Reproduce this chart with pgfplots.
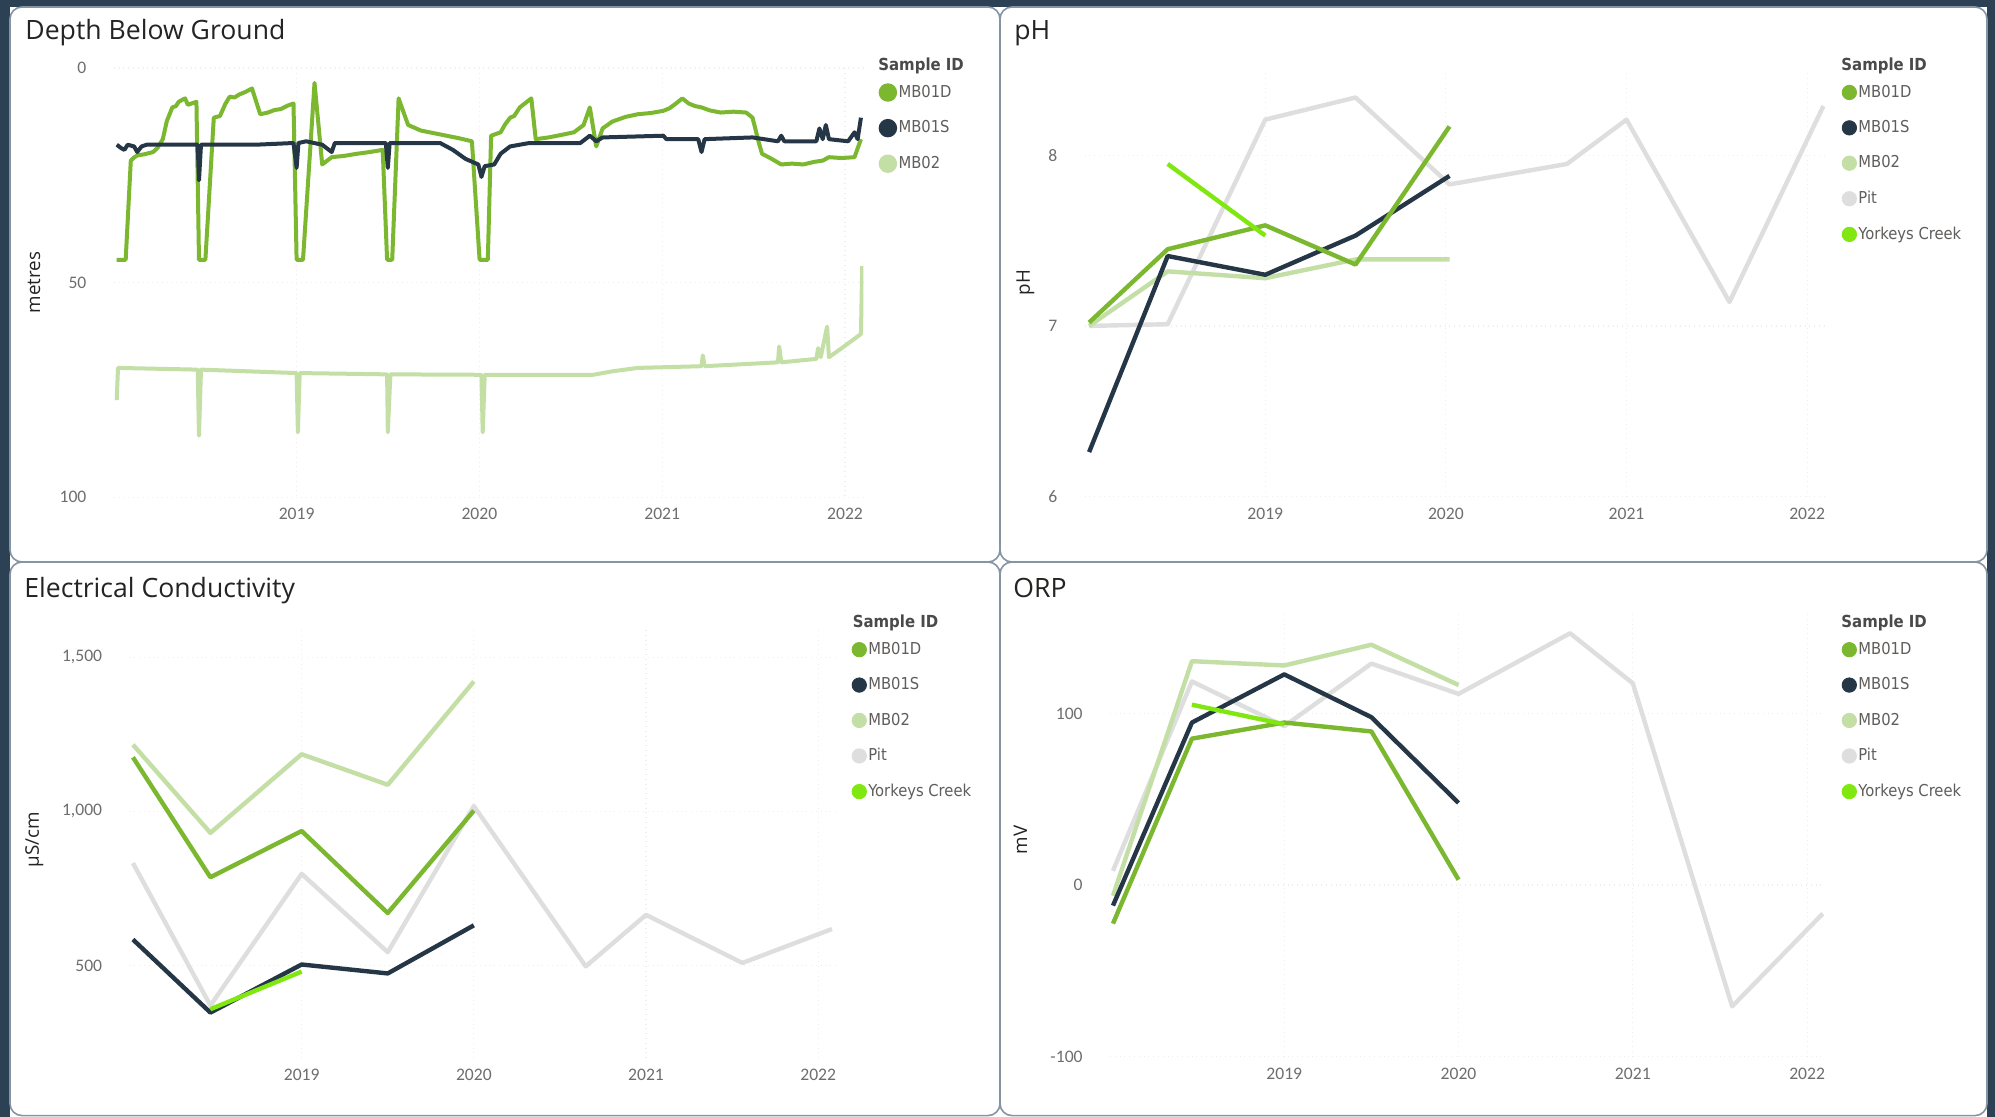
\documentclass[border=0pt]{standalone}
\usepackage{pgfplots}
\pgfplotsset{compat=1.18}
\usepackage{fontspec}
\setmainfont{Open Sans}
\newfontfamily\tickfont{Carlito}
\newfontfamily\legfont{DejaVu Sans Condensed}
\definecolor{cMBD}{HTML}{7BB72F}
\definecolor{cMBS}{HTML}{253746}
\definecolor{cMB2}{HTML}{C4DFA5}
\definecolor{cPit}{HTML}{DEDEDE}
\definecolor{cYork}{HTML}{80E810}
\definecolor{navy}{HTML}{2C4254}
\definecolor{bord}{HTML}{8695A3}
\definecolor{ttl}{HTML}{252423}
\definecolor{tickcol}{HTML}{6E6E6E}
\definecolor{legcol}{HTML}{605E5C}
\definecolor{legttl}{HTML}{4A4A4A}
\definecolor{gcol}{HTML}{EEEEEE}
\pgfplotsset{
  panel/.style={
    scale only axis, axis line style={draw=none}, major tick length=0pt,
    grid=major, major grid style={gcol, dotted, line width=0.6pt},
    xmin=2018, xmax=2022.1,
    xtick={2019,2020,2021,2022}, xticklabels={2019,2020,2021,2022},
    ticklabel style={font=\tickfont\fontsize{8.8}{10}\selectfont, text=tickcol},
    xticklabel style={inner sep=0pt, anchor=north, yshift=-5.5pt},
    yticklabel style={inner sep=0pt, anchor=east, xshift=-13.5pt},
    legend style={anchor=north west, draw=none, fill=none, inner sep=0pt,
      row sep=8.6pt, nodes={inner sep=0.75pt},
      font=\legfont\fontsize{8.2}{9.8}\selectfont, text=legcol},
    legend cell align=left,
    legend image code/.code={\fill[##1] (3.6pt,0pt) circle (3.6pt);},
    line join=round,
  },
  dl/.style={line width=2pt, mark=none},
  sl/.style={line width=2.2pt, mark=none, forget plot},
}
\begin{document}
\begin{tikzpicture}
\useasboundingbox (0pt,0pt) rectangle (997.5pt,-558.5pt);
\fill[navy] (0pt,0pt) rectangle (997.5pt,-558.5pt);
\fill[white] (5pt,-3.5pt) rectangle (993.5pt,-558.5pt);
\draw[bord, line width=0.8pt, rounded corners=6pt] (5pt,-3.5pt) rectangle (500pt,-281pt);
\draw[bord, line width=0.8pt, rounded corners=6pt] (500pt,-3.5pt) rectangle (993.5pt,-281pt);
\draw[bord, line width=0.8pt, rounded corners=6pt] (5pt,-281pt) rectangle (500pt,-557.8pt);
\draw[bord, line width=0.8pt, rounded corners=6pt] (500pt,-281pt) rectangle (993.5pt,-557.8pt);

% titles
\node[anchor=base west, inner sep=0pt, text=ttl, font=\fontsize{13.3}{15}\selectfont] at (12.5pt,-19.65pt) {Depth Below Ground};
\node[anchor=base west, inner sep=0pt, text=ttl, font=\fontsize{13.3}{15}\selectfont] at (507pt,-19.65pt) {pH};
\node[anchor=base west, inner sep=0pt, text=ttl, font=\fontsize{13.3}{15}\selectfont] at (12pt,-298.75pt) {Electrical Conductivity};
\node[anchor=base west, inner sep=0pt, text=ttl, font=\fontsize{13.3}{15}\selectfont] at (506.5pt,-298.75pt) {ORP};
% y labels
\node[rotate=90, inner sep=0pt, text=ttl, font=\fontsize{9.4}{11}\selectfont] at (17pt,-141.25pt) {metres};
\node[rotate=90, inner sep=0pt, text=ttl, font=\fontsize{9.4}{11}\selectfont] at (512.75pt,-141.25pt) {pH};
\node[rotate=90, inner sep=0pt, text=ttl, font=\fontsize{9.4}{11}\selectfont] at (17.2pt,-419.85pt) {µS/cm};
\node[rotate=90, inner sep=0pt, text=ttl, font=\fontsize{9.4}{11}\selectfont] at (510.2pt,-419.85pt) {mV};
% legend titles
\foreach \p in {(439pt,-35.15pt),(920.5pt,-35.15pt),(426.2pt,-313.75pt),(920.5pt,-313.75pt)}
  \node[anchor=base west, inner sep=0pt, text=legttl, font=\legfont\bfseries\fontsize{8.3}{10}\selectfont] at \p {Sample ID};

% ---------- Depth Below Ground ----------
\begin{axis}[panel, at={(56.9pt,-248.55pt)}, anchor=south west,
  width=374.75pt, height=214.6pt, y dir=reverse, ymin=0, ymax=100,
  ytick={0,50,100}, yticklabels={0,50,100},
  legend style={at={(1.020,0.965)}}]
\addplot[cMBD, dl] coordinates {
(2018.016,44.7)(2018.065,44.7)(2018.093,21.6)(2018.110,20.9)(2018.128,20.4)(2018.170,20.1)(2018.215,19.6)(2018.240,18.6)(2018.268,16.6)
(2018.290,12.4)(2018.320,9.2)(2018.340,8.9)(2018.355,7.9)(2018.372,7.5)(2018.390,7.1)(2018.405,8.6)(2018.425,8.3)(2018.452,7.9)(2018.466,44.7)
(2018.501,44.7)(2018.547,11.6)(2018.581,11.2)(2018.610,8.4)(2018.634,6.7)(2018.660,6.9)(2018.686,6.2)(2018.720,5.6)(2018.756,4.8)
(2018.801,10.8)(2018.843,10.4)(2018.880,9.8)(2018.913,9.6)(2018.950,8.8)(2018.983,8.3)(2019.000,44.7)(2019.035,44.7)
(2019.098,3.5)(2019.140,22.5)(2019.192,20.8)(2019.260,20.5)(2019.331,20.0)(2019.400,19.6)(2019.471,19.1)(2019.495,44.7)
(2019.523,44.7)(2019.558,7.1)(2019.610,13.3)(2019.680,14.6)(2019.750,15.2)(2019.820,15.8)(2019.890,16.4)(2019.959,17.1)
(2020.001,44.7)(2020.046,44.7)(2020.064,15.8)(2020.116,15.0)(2020.140,13.2)(2020.168,11.6)(2020.190,11.2)(2020.221,9.2)
(2020.284,7.1)(2020.308,16.6)(2020.378,16.2)(2020.450,15.6)(2020.517,15.0)(2020.570,13.3)(2020.604,9.2)
(2020.639,18.3)(2020.674,14.1)(2020.727,12.5)(2020.800,11.4)(2020.866,10.8)(2020.940,10.5)(2021.006,10.0)(2021.040,9.4)(2021.075,8.3)
(2021.110,7.1)(2021.145,8.3)(2021.180,8.9)(2021.215,9.2)(2021.260,9.9)(2021.319,10.4)(2021.390,10.2)(2021.459,10.4)(2021.494,11.6)
(2021.529,17.5)(2021.546,20.0)(2021.599,21.2)(2021.651,22.5)(2021.710,22.3)(2021.773,22.5)(2021.830,21.9)(2021.878,21.6)
(2021.912,20.8)(2021.980,21.0)(2022.052,20.8)(2022.087,16.6)};
\addlegendentry{MB01D}
\addplot[cMBS, dl] coordinates {
(2018.016,17.9)(2018.041,18.7)(2018.058,19.1)(2018.076,17.9)(2018.111,18.3)(2018.128,19.6)
(2018.152,18.3)(2018.180,17.9)(2018.459,17.9)(2018.466,26.2)(2018.477,17.9)(2018.773,17.9)
(2018.983,17.5)(2019.000,23.3)(2019.010,17.5)(2019.052,17.1)(2019.140,17.9)(2019.192,19.6)
(2019.209,17.5)(2019.488,17.5)(2019.499,23.3)(2019.509,17.5)(2019.785,17.5)(2019.855,19.1)
(2019.924,21.2)(2019.994,22.5)(2020.011,25.4)(2020.029,22.9)(2020.081,22.5)(2020.116,20.0)
(2020.168,18.3)(2020.273,17.5)(2020.552,17.5)(2020.604,15.8)(2020.639,17.1)(2020.674,16.2)
(2021.006,15.8)(2021.023,16.6)(2021.197,16.6)(2021.215,19.6)(2021.232,16.6)(2021.494,16.2)
(2021.633,17.1)(2021.651,15.8)(2021.668,17.1)(2021.843,17.1)(2021.860,14.1)(2021.878,16.6)
(2021.895,13.3)(2021.912,16.6)(2022.017,17.1)(2022.052,15.0)(2022.069,16.6)(2022.087,11.6)};
\addlegendentry{MB01S}
\addplot[cMB2, dl] coordinates {
(2018.016,77.4)(2018.023,69.9)(2018.459,70.3)(2018.466,85.7)(2018.477,70.3)(2019.000,71.1)
(2019.007,84.9)(2019.017,71.1)(2019.495,71.4)(2019.499,84.9)(2019.513,71.4)(2020.011,71.5)
(2020.018,84.9)(2020.029,71.5)(2020.622,71.5)(2020.727,70.7)(2020.866,69.9)(2021.215,69.5)
(2021.222,67.0)(2021.232,69.5)(2021.633,68.6)(2021.640,64.9)(2021.651,68.6)(2021.843,67.8)
(2021.853,65.3)(2021.867,67.4)(2021.902,60.3)(2021.912,67.4)(2021.982,65.3)(2022.087,62.0)
(2022.094,46.2)};
\addlegendentry{MB02}
\end{axis}

% ---------- pH ----------
\begin{axis}[panel, at={(542.3pt,-248.2pt)}, anchor=south west,
  width=370.3pt, height=213.1pt, ymin=6, ymax=8.5,
  ytick={6,7,8}, yticklabels={6,7,8},
  legend style={at={(1.0218,0.970)}}]
\addplot[cPit, sl] coordinates {(2018.025,7.00)(2018.46,7.01)(2019.0,8.21)(2019.5,8.34)(2020.02,7.83)(2020.67,7.95)(2021.0,8.21)(2021.57,7.14)(2022.09,8.29)};
\addplot[cMB2, sl] coordinates {(2018.025,7.00)(2018.46,7.32)(2019.0,7.28)(2019.5,7.39)(2020.02,7.39)};
\addplot[cMBS, sl] coordinates {(2018.025,6.26)(2018.46,7.41)(2019.0,7.30)(2019.5,7.53)(2020.02,7.88)};
\addplot[cMBD, sl] coordinates {(2018.025,7.02)(2018.46,7.45)(2019.0,7.59)(2019.5,7.36)(2020.02,8.17)};
\addplot[cYork, sl] coordinates {(2018.46,7.95)(2019.0,7.53)};
\addlegendimage{cMBD}\addlegendentry{MB01D}
\addlegendimage{cMBS}\addlegendentry{MB01S}
\addlegendimage{cMB2}\addlegendentry{MB02}
\addlegendimage{cPit}\addlegendentry{Pit}
\addlegendimage{cYork}\addlegendentry{Yorkeys Creek}
\end{axis}

% ---------- Electrical Conductivity ----------
\begin{axis}[panel, at={(64.75pt,-528.95pt)}, anchor=south west,
  width=352.95pt, height=215.8pt, ymin=200, ymax=1600,
  ytick={500,1000,1500}, yticklabels={500,{1,000},{1,500}},
  legend style={at={(1.0225,0.9678)}}]
\addplot[cPit, sl] coordinates {(2018.02,832)(2018.47,370)(2019.0,797)(2019.5,543)(2020.0,1017)(2020.65,497)(2021.0,664)(2021.56,508)(2022.08,618)};
\addplot[cMB2, sl] coordinates {(2018.02,1216)(2018.47,930)(2019.0,1185)(2019.5,1086)(2020.0,1421)};
\addplot[cMBS, sl] coordinates {(2018.02,584)(2018.47,347)(2019.0,503)(2019.5,474)(2020.0,630)};
\addplot[cMBD, sl] coordinates {(2018.02,1175)(2018.47,786)(2019.0,936)(2019.5,670)(2020.0,1002)};
\addplot[cYork, sl] coordinates {(2018.47,358)(2019.0,480)};
\addlegendimage{cMBD}\addlegendentry{MB01D}
\addlegendimage{cMBS}\addlegendentry{MB01S}
\addlegendimage{cMB2}\addlegendentry{MB02}
\addlegendimage{cPit}\addlegendentry{Pit}
\addlegendimage{cYork}\addlegendentry{Yorkeys Creek}
\end{axis}

% ---------- ORP ----------
\begin{axis}[panel, at={(555pt,-528.2pt)}, anchor=south west,
  width=357.25pt, height=222.8pt, ymin=-100, ymax=160,
  ytick={-100,0,100}, yticklabels={-100,0,100},
  legend style={at={(1.0235,0.934)}}]
\addplot[cPit, sl] coordinates {(2018.017,8.3)(2018.47,118.8)(2019.0,92.7)(2019.5,129.2)(2020.0,111.5)(2020.64,146.9)(2021.0,117.7)(2021.57,-70.8)(2022.09,-16.7)};
\addplot[cMB2, sl] coordinates {(2018.017,-6.3)(2018.47,130.6)(2019.0,128.1)(2019.5,140.2)(2020.0,116.7)};
\addplot[cMBS, sl] coordinates {(2018.017,-12.0)(2018.47,94.8)(2019.0,122.9)(2019.5,97.9)(2020.0,47.9)};
\addplot[cMBD, sl] coordinates {(2018.017,-22.5)(2018.47,85.4)(2019.0,94.8)(2019.5,89.6)(2020.0,3.1)};
\addplot[cYork, sl] coordinates {(2018.47,105.2)(2019.0,93.8)};
\addlegendimage{cMBD}\addlegendentry{MB01D}
\addlegendimage{cMBS}\addlegendentry{MB01S}
\addlegendimage{cMB2}\addlegendentry{MB02}
\addlegendimage{cPit}\addlegendentry{Pit}
\addlegendimage{cYork}\addlegendentry{Yorkeys Creek}
\end{axis}
\end{tikzpicture}
\end{document}
